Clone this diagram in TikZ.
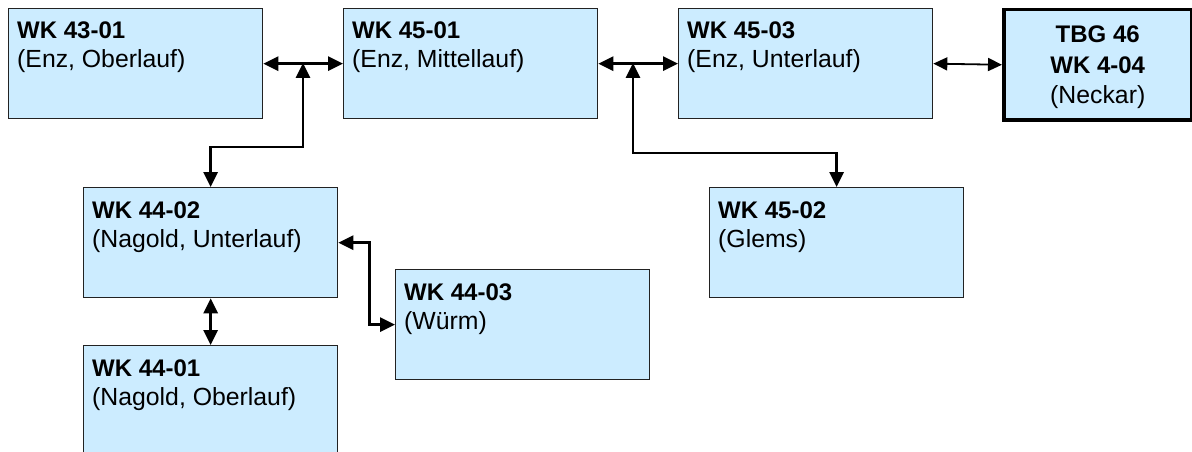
\documentclass[tikz,border=0pt]{standalone}
\usepackage{fontspec}
\setmainfont{Liberation Sans}
\usetikzlibrary{arrows.meta}
\definecolor{boxfill}{HTML}{CCECFF}
\definecolor{boxline}{HTML}{222222}
\tikzset{
  wbox/.style={draw=boxline, fill=boxfill, line width=1.3pt, inner sep=0pt, anchor=north west, minimum width=254pt, minimum height=110pt},
  tbgbox/.style={wbox, draw=black, line width=3.5pt, minimum width=188pt},
  hd/.style={inner sep=0pt, anchor=base west, font=\fontsize{24}{29}\selectfont\bfseries},
  sub/.style={inner sep=0pt, anchor=base west, font=\fontsize{24.8}{29}\selectfont},
  arr/.style={line width=2.8pt, {Triangle[length=15pt,width=14pt]}-{Triangle[length=15pt,width=14pt]}},
  thinarr/.style={line width=1.8pt, {Triangle[length=14pt,width=13pt]}-{Triangle[length=14pt,width=13pt]}}
}
\begin{document}
\begin{tikzpicture}[x=1pt,y=-1pt]
\useasboundingbox (0,0) rectangle (1192,452);
% boxes
\node[wbox] (b4301) at (8,8) {};
\node[wbox] (b4501) at (343,8) {};
\node[wbox] (b4503) at (678,8) {};
\node[tbgbox] (btbg) at (1002,8) {};
\node[wbox] (b4402) at (83,187) {};
\node[wbox] (b4502) at (709,187) {};
\node[wbox] (b4403) at (395,269) {};
\node[wbox, minimum height=130pt] (b4401) at (83,345) {};
% texts
\node[hd] (t4301a) at ([xshift=9pt,yshift=-31pt]b4301.north west) {WK 43-01};
\node[sub] (t4301b) at ([xshift=9pt,yshift=-60pt]b4301.north west) {(Enz, Oberlauf)};
\node[hd] (t4501a) at ([xshift=9pt,yshift=-31pt]b4501.north west) {WK 45-01};
\node[sub] (t4501b) at ([xshift=9pt,yshift=-60pt]b4501.north west) {(Enz, Mittellauf)};
\node[hd] (t4503a) at ([xshift=9pt,yshift=-31pt]b4503.north west) {WK 45-03};
\node[sub] (t4503b) at ([xshift=9pt,yshift=-60pt]b4503.north west) {(Enz, Unterlauf)};
\node[hd, anchor=base] (ttbga) at ([yshift=-35pt]btbg.north) {TBG 46};
\node[hd, anchor=base] (ttbgb) at ([yshift=-66pt]btbg.north) {WK 4-04};
\node[sub, anchor=base] (ttbgc) at ([yshift=-95pt]btbg.north) {(Neckar)};
\node[hd] (t4402a) at ([xshift=9pt,yshift=-31pt]b4402.north west) {WK 44-02};
\node[sub] (t4402b) at ([xshift=9pt,yshift=-60pt]b4402.north west) {(Nagold, Unterlauf)};
\node[hd] (t4502a) at ([xshift=9pt,yshift=-31pt]b4502.north west) {WK 45-02};
\node[sub] (t4502b) at ([xshift=9pt,yshift=-60pt]b4502.north west) {(Glems)};
\node[hd] (t4403a) at ([xshift=9pt,yshift=-31pt]b4403.north west) {WK 44-03};
\node[sub] (t4403b) at ([xshift=9pt,yshift=-60pt]b4403.north west) {(Würm)};
\node[hd] (t4401a) at ([xshift=9pt,yshift=-31pt]b4401.north west) {WK 44-01};
\node[sub] (t4401b) at ([xshift=9pt,yshift=-60pt]b4401.north west) {(Nagold, Oberlauf)};
% junctions
\coordinate (j1) at (303,63);
\coordinate (j2) at (633,63);
% connectors
\draw[arr] (b4301.east) -- (b4501.west);
\draw[arr] (b4501.east) -- (b4503.west);
\draw[thinarr] (b4503.east) -- (btbg.west);
\draw[arr] (b4402.north) -- ++(0,-40) -| (j1);
\draw[arr] (b4502.north) -- ++(0,-34) -| (j2);
\draw[arr] (b4402.south) -- (b4401.north);
\draw[arr] (b4402.east) -- ++(31,0) |- (b4403.west);
\end{tikzpicture}
\end{document}
